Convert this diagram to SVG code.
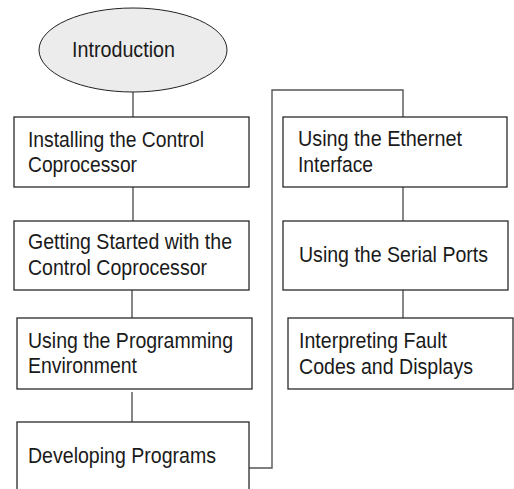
<svg xmlns="http://www.w3.org/2000/svg" width="514" height="489" viewBox="0 0 514 489">
<style>
  .box { fill: #ffffff; stroke: #2a2a2a; stroke-width: 1.3; }
  .oval { fill: #ececec; stroke: #222222; stroke-width: 1; }
  .lbl { font-family: "Liberation Sans", Arial, sans-serif; font-size: 22px; fill: #1a1a1a; }
  .conn { fill: none; stroke: #555555; stroke-width: 1.4; }
</style>
<rect width="514" height="489" fill="#ffffff"/>
<g id="connectors">
  <line class="conn" x1="133" y1="92" x2="133" y2="117"/>
  <line class="conn" x1="133" y1="187" x2="133" y2="221"/>
  <line class="conn" x1="132" y1="290" x2="132" y2="318"/>
  <line class="conn" x1="132" y1="392" x2="132" y2="422"/>
  <polyline class="conn" points="249,468 272,468 272,90 403,90 403,117"/>
  <line class="conn" x1="403" y1="187" x2="403" y2="221"/>
  <line class="conn" x1="403" y1="290" x2="403" y2="318"/>
</g>
<g id="intro">
  <ellipse class="oval" cx="133" cy="50" rx="94" ry="42"/>
  <text class="lbl" x="72" y="57" textLength="103" lengthAdjust="spacingAndGlyphs">Introduction</text>
</g>
<g id="installing">
  <rect class="box" x="14" y="117" width="235" height="70"/>
  <text class="lbl" x="28" y="147" textLength="176" lengthAdjust="spacingAndGlyphs">Installing the Control</text>
  <text class="lbl" x="28" y="172" textLength="109" lengthAdjust="spacingAndGlyphs">Coprocessor</text>
</g>
<g id="getting-started">
  <rect class="box" x="14" y="221" width="235" height="69"/>
  <text class="lbl" x="28" y="249" textLength="204" lengthAdjust="spacingAndGlyphs">Getting Started with the</text>
  <text class="lbl" x="28" y="275" textLength="179" lengthAdjust="spacingAndGlyphs">Control Coprocessor</text>
</g>
<g id="programming-env">
  <rect class="box" x="17" y="318" width="235" height="71"/>
  <text class="lbl" x="28" y="348" textLength="205" lengthAdjust="spacingAndGlyphs">Using the Programming</text>
  <text class="lbl" x="28" y="373" textLength="109" lengthAdjust="spacingAndGlyphs">Environment</text>
</g>
<g id="developing">
  <rect class="box" x="17" y="422" width="232" height="80"/>
  <text class="lbl" x="28" y="463" textLength="188" lengthAdjust="spacingAndGlyphs">Developing Programs</text>
</g>
<g id="ethernet">
  <rect class="box" x="283" y="117" width="224" height="70"/>
  <text class="lbl" x="298" y="146" textLength="164" lengthAdjust="spacingAndGlyphs">Using the Ethernet</text>
  <text class="lbl" x="298" y="172" textLength="75" lengthAdjust="spacingAndGlyphs">Interface</text>
</g>
<g id="serial">
  <rect class="box" x="283" y="221" width="225" height="69"/>
  <text class="lbl" x="299" y="262" textLength="189" lengthAdjust="spacingAndGlyphs">Using the Serial Ports</text>
</g>
<g id="fault-codes">
  <rect class="box" x="288" y="318" width="225" height="71"/>
  <text class="lbl" x="299" y="348" textLength="148" lengthAdjust="spacingAndGlyphs">Interpreting Fault</text>
  <text class="lbl" x="299" y="374" textLength="174" lengthAdjust="spacingAndGlyphs">Codes and Displays</text>
</g>
</svg>
